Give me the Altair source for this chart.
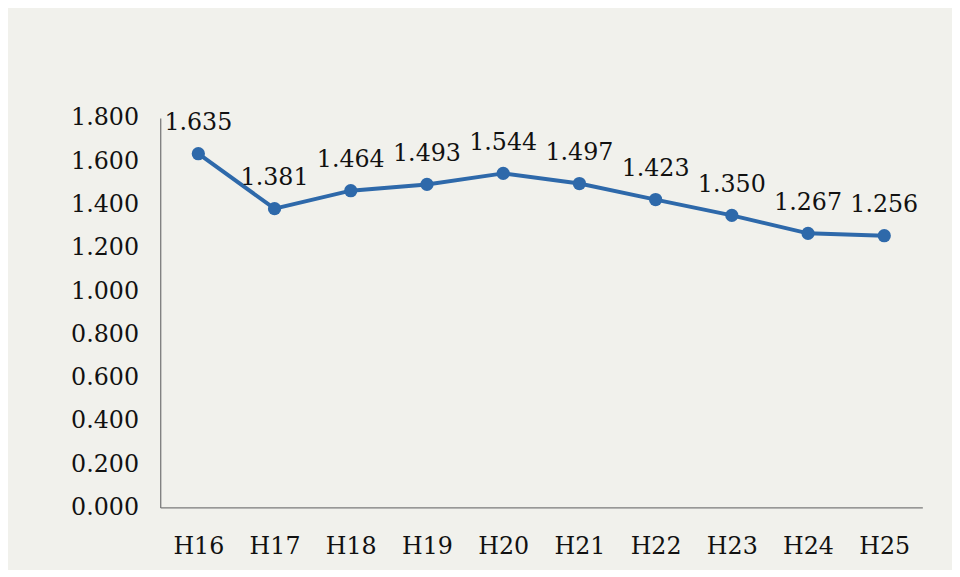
import altair as alt
import pandas as pd

years = ["H16", "H17", "H18", "H19", "H20", "H21", "H22", "H23", "H24", "H25"]
values = [1.635, 1.381, 1.464, 1.493, 1.544, 1.497, 1.423, 1.350, 1.267, 1.256]
labels = ["1.635", "1.381", "1.464", "1.493", "1.544", "1.497", "1.423", "1.350", "1.267", "1.256"]

df = pd.DataFrame({"year": years, "value": values, "label": labels})

FONT = "DejaVu Serif"
BLUE = "#2e69aa"

x = alt.X("year:N", sort=years, title=None,
          scale=alt.Scale(paddingInner=1, paddingOuter=0.5),
          axis=alt.Axis(labelAngle=0, ticks=False, domainColor="#7a7a7a",
                        domainWidth=1.3, labelFont=FONT, labelFontSize=24,
                        labelColor="#111111", labelPadding=28, grid=False))
y = alt.Y("value:Q", title=None,
          scale=alt.Scale(domain=[0, 1.8], nice=False),
          axis=alt.Axis(values=[0, 0.2, 0.4, 0.6, 0.8, 1.0, 1.2, 1.4, 1.6, 1.8],
                        format=".3f", ticks=False, domainColor="#7a7a7a",
                        domainWidth=1.3, labelFont=FONT, labelFontSize=24,
                        labelColor="#111111", labelPadding=22, grid=False))

base = alt.Chart(df)
line = base.mark_line(color=BLUE, strokeWidth=4).encode(x=x, y=y)
pts = base.mark_circle(color=BLUE, size=180, opacity=1).encode(x=x, y=y)
txt = base.mark_text(font=FONT, fontSize=24, color="#111111", dy=-24,
                     baseline="alphabetic").encode(x=x, y=y, text="label:N")

chart = (line + pts + txt).properties(
    width=771, height=394,
    autosize=alt.AutoSizeParams(type="none"),
    padding={"left": 154, "top": 108, "right": 30, "bottom": 60},
    background="#f1f1ec",
).configure_view(stroke=None)

chart.save("out.html", embed_options={"renderer": "svg", "actions": False})
